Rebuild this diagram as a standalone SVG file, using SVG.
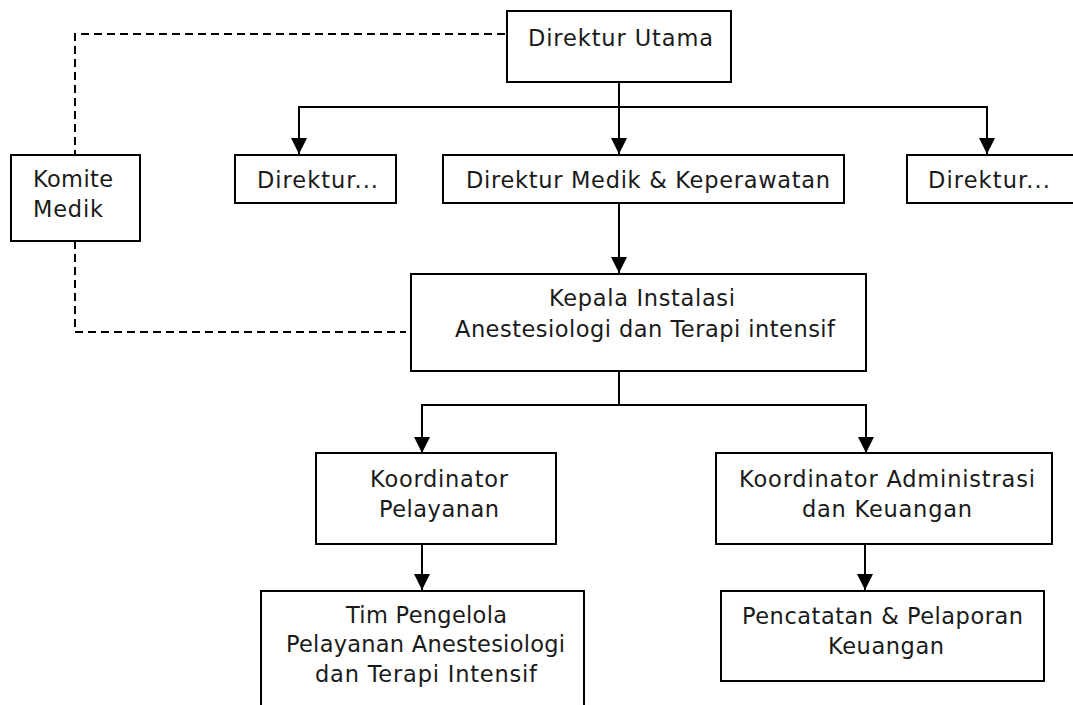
<svg xmlns="http://www.w3.org/2000/svg" width="1073" height="705" viewBox="0 0 1073 705">
<style>
.box{fill:#fff;stroke:#000;stroke-width:2}
.t{font-family:"DejaVu Sans",Verdana,sans-serif;font-size:22.5px;font-weight:400;fill:#1a1a1a}
.ln{fill:none;stroke:#000;stroke-width:2}
.ar{fill:none;stroke:#000;stroke-width:2;marker-end:url(#ah)}
.dash{fill:none;stroke:#000;stroke-width:2;stroke-dasharray:8 5}
</style>
<defs>
<marker id="ah" markerUnits="userSpaceOnUse" markerWidth="16" markerHeight="16" refX="16" refY="8" orient="auto">
<path d="M0,0 L16,8 L0,16 z" fill="#000"/>
</marker>
</defs>
<rect width="1073" height="705" fill="#fff"/>
<g id="connectors">
<path class="dash" d="M505,34 H75 V154"/>
<path class="dash" d="M75,241 V332 H406"/>
<path class="ar" d="M619,82 V154"/>
<path class="ar" d="M619,107 H299 V154"/>
<path class="ar" d="M619,107 H987 V154"/>
<path class="ar" d="M619,203 V273"/>
<path class="ln" d="M619,371 V405"/>
<path class="ar" d="M619,405 H422 V453"/>
<path class="ar" d="M619,405 H866 V453"/>
<path class="ar" d="M422,544 V590"/>
<path class="ar" d="M865,543 V590"/>
</g>
<g id="direktur-utama">
<rect class="box" x="507" y="11" width="224" height="71"/>
<text class="t" x="528" y="46" textLength="185" lengthAdjust="spacing">Direktur Utama</text>
</g>
<g id="komite-medik">
<rect class="box" x="11" y="155" width="129" height="86"/>
<text class="t" x="33" y="187" textLength="80" lengthAdjust="spacing">Komite</text>
<text class="t" x="33" y="217" textLength="70" lengthAdjust="spacing">Medik</text>
</g>
<g id="direktur-kiri">
<rect class="box" x="235" y="155" width="161" height="48"/>
<text class="t" x="257" y="188" textLength="121" lengthAdjust="spacing">Direktur...</text>
</g>
<g id="direktur-medik">
<rect class="box" x="443" y="155" width="401" height="48"/>
<text class="t" x="466" y="188" textLength="364" lengthAdjust="spacing">Direktur Medik &amp; Keperawatan</text>
</g>
<g id="direktur-kanan">
<rect class="box" x="907" y="155" width="180" height="48"/>
<text class="t" x="928" y="188" textLength="122" lengthAdjust="spacing">Direktur...</text>
</g>
<g id="kepala-instalasi">
<rect class="box" x="411" y="274" width="455" height="97"/>
<text class="t" x="549" y="306" textLength="186" lengthAdjust="spacing">Kepala Instalasi</text>
<text class="t" x="455" y="337" textLength="380" lengthAdjust="spacing">Anestesiologi dan Terapi intensif</text>
</g>
<g id="koordinator-pelayanan">
<rect class="box" x="316" y="453" width="240" height="91"/>
<text class="t" x="370" y="487" textLength="138" lengthAdjust="spacing">Koordinator</text>
<text class="t" x="379" y="517" textLength="120" lengthAdjust="spacing">Pelayanan</text>
</g>
<g id="koordinator-administrasi">
<rect class="box" x="716" y="453" width="336" height="91"/>
<text class="t" x="739" y="487" textLength="296" lengthAdjust="spacing">Koordinator Administrasi</text>
<text class="t" x="802" y="517" textLength="170" lengthAdjust="spacing">dan Keuangan</text>
</g>
<g id="tim-pengelola">
<path class="ln" d="M261,720 V591 H584 V720"/>
<text class="t" x="346" y="623" textLength="161" lengthAdjust="spacing">Tim Pengelola</text>
<text class="t" x="286" y="652" textLength="279" lengthAdjust="spacing">Pelayanan Anestesiologi</text>
<text class="t" x="315" y="682" textLength="222" lengthAdjust="spacing">dan Terapi Intensif</text>
</g>
<g id="pencatatan">
<rect class="box" x="721" y="591" width="323" height="90"/>
<text class="t" x="742" y="624" textLength="281" lengthAdjust="spacing">Pencatatan &amp; Pelaporan</text>
<text class="t" x="828" y="654" textLength="116" lengthAdjust="spacing">Keuangan</text>
</g>
</svg>
